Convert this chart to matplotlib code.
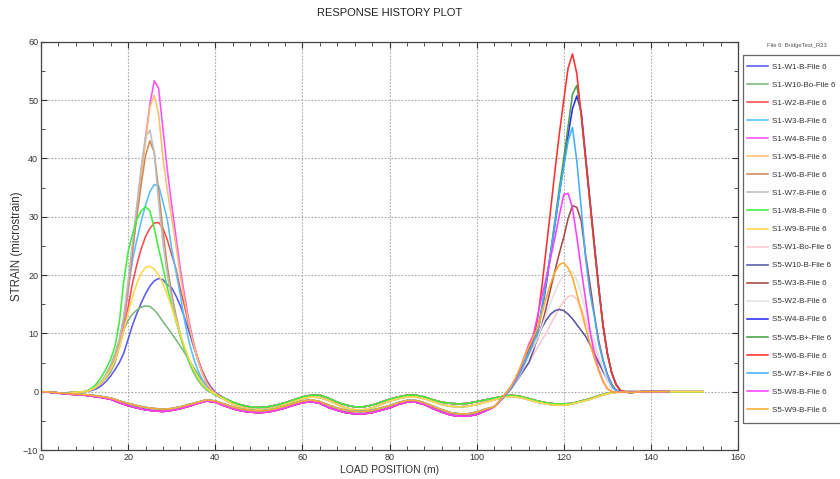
import matplotlib
matplotlib.use("Agg")
import matplotlib.pyplot as plt
from matplotlib.ticker import MultipleLocator
from matplotlib.patches import Rectangle

plt.rcParams['font.family'] = ['Liberation Sans', 'DejaVu Sans']

# ---------------- data ----------------
# sample positions (load position, m)
S1_PRE_X = [0, 1, 2, 3, 4, 5, 6, 7, 8, 9]
S1_PEAK_X = list(range(10, 41))
S1_POST_X = list(range(42, 153, 2))
S5_PRE_X = list(range(0, 103, 2))
S5_PEAK_X = list(range(104, 135))
S5_POST_X = [135, 136, 138, 140, 142, 144]

# shared baseline segments
S1_PRE = [0.0, -0.05, -0.1, -0.15, -0.2, -0.2, -0.2, -0.15, -0.1, -0.05]
S1_POST_A = [-1.1, -1.8, -2.3, -2.6, -2.7, -2.6, -2.3, -1.9, -1.4, -0.9, -0.6, -0.6, -1.1, -1.8,
             -2.3, -2.6, -2.6, -2.3, -1.8, -1.3, -0.9, -0.6, -0.6, -0.9, -1.4, -1.8, -2.0, -2.1,
             -2.0, -1.7, -1.4, -1.1, -0.8, -0.6, -0.8, -1.2, -1.6, -1.9, -2.1, -2.1, -2.0, -1.6,
             -1.2, -0.7, -0.3, -0.05, 0.0, 0.0, 0.0, 0.0, 0.0, 0.0, 0.0, 0.0, 0.0, 0.0]
S1_POST_B = [-1.3, -2.1, -2.7, -3.0, -3.1, -3.0, -2.7, -2.2, -1.7, -1.2, -0.9, -1.0, -1.5, -2.2,
             -2.8, -3.1, -3.1, -2.8, -2.2, -1.6, -1.2, -0.9, -0.9, -1.2, -1.7, -2.2, -2.5, -2.6,
             -2.5, -2.2, -1.8, -1.4, -1.0, -0.8, -1.0, -1.4, -1.8, -2.1, -2.3, -2.3, -2.1, -1.7,
             -1.3, -0.8, -0.35, -0.1, 0.0, 0.0, 0.0, 0.0, 0.0, 0.0, 0.0, 0.0, 0.0, 0.0]
S5_PRE_A = [0.0, -0.1, -0.25, -0.4, -0.5, -0.6, -0.8, -1.0, -1.3, -1.9, -2.4, -2.8, -3.1, -3.3,
            -3.4, -3.2, -2.9, -2.5, -2.0, -1.6, -1.8, -2.4, -2.9, -3.3, -3.5, -3.6, -3.5, -3.2,
            -2.8, -2.3, -1.9, -1.7, -2.0, -2.7, -3.2, -3.6, -3.8, -3.8, -3.6, -3.2, -2.8, -2.2,
            -1.8, -1.8, -2.2, -2.9, -3.5, -4.0, -4.2, -4.2, -3.9, -3.3]
S5_PRE_B = [0.0, -0.05, -0.2, -0.3, -0.4, -0.5, -0.65, -0.85, -1.1, -1.6, -2.0, -2.4, -2.7, -2.9,
            -3.0, -2.9, -2.6, -2.2, -1.8, -1.4, -1.6, -2.1, -2.6, -3.0, -3.2, -3.3, -3.2, -2.9,
            -2.5, -2.0, -1.6, -1.4, -1.7, -2.3, -2.8, -3.2, -3.4, -3.4, -3.2, -2.8, -2.4, -1.9,
            -1.5, -1.5, -1.9, -2.5, -3.1, -3.6, -3.8, -3.8, -3.5, -3.0]
S5_POST = [-0.15, -0.1, 0.0, 0.0, 0.0, 0.0]

# first-span peaks (x = 10..40)
S1_W1 = [0.0, 0.1, 0.3, 0.6, 1.1, 1.8, 2.7, 3.8, 5.0, 6.6, 9.0, 11.4, 13.4, 15.2, 16.8, 18.1,
         19.0, 19.4, 19.2, 18.3, 17.8, 16.4, 14.7, 12.6, 10.3, 7.8, 5.5, 3.6, 2.0, 0.8, -0.1]
S1_W10 = [0.0, 0.2, 0.5, 1.0, 1.6, 2.4, 3.4, 5.0, 8.0, 10.6, 12.2, 13.3, 14.0, 14.5, 14.7, 14.6,
          14.0, 13.1, 12.0, 11.0, 10.0, 8.9, 7.8, 6.6, 5.4, 4.2, 3.0, 1.9, 0.9, 0.0, -0.6]
S1_W2 = [0.0, 0.2, 0.5, 1.0, 1.7, 2.6, 3.9, 5.5, 7.7, 10.5, 14.5, 18.6, 21.8, 24.5, 26.6, 28.0,
         28.9, 29.0, 28.0, 26.0, 23.5, 21.0, 17.5, 14.5, 11.2, 8.3, 5.7, 3.5, 1.8, 0.5, -0.3]
S1_W3 = [0.0, 0.2, 0.5, 1.0, 1.7, 2.7, 4.0, 5.8, 8.2, 11.8, 17.5, 22.5, 26.0, 29.2, 32.0, 34.3,
         35.5, 35.3, 32.5, 29.5, 24.5, 20.5, 16.5, 12.0, 8.5, 5.8, 3.7, 2.1, 1.0, 0.2, -0.3]
S1_W4 = [0.0, 0.2, 0.5, 1.0, 1.8, 2.8, 4.2, 6.0, 8.3, 11.8, 17.3, 24.0, 31.0, 37.5, 43.5, 49.3,
         53.3, 52.0, 45.0, 38.0, 32.0, 26.5, 21.0, 16.3, 12.0, 8.5, 5.5, 3.2, 1.5, 0.4, -0.3]
S1_W5 = [0.0, 0.2, 0.5, 1.0, 1.8, 2.9, 4.4, 6.3, 8.8, 12.5, 18.0, 24.5, 31.0, 37.0, 43.0, 48.8,
         50.8, 47.5, 40.0, 34.5, 29.8, 25.0, 19.8, 15.5, 11.5, 8.2, 5.4, 3.2, 1.5, 0.4, -0.3]
S1_W6 = [0.0, 0.2, 0.6, 1.1, 1.9, 3.0, 4.5, 6.4, 8.8, 12.5, 18.0, 24.0, 30.0, 35.5, 40.5, 43.0,
         41.0, 34.5, 27.5, 21.5, 16.8, 13.0, 9.8, 7.2, 5.1, 3.4, 2.0, 1.0, 0.3, -0.1, -0.4]
S1_W7 = [0.0, 0.2, 0.6, 1.1, 1.9, 3.0, 4.6, 6.6, 9.0, 13.0, 19.0, 25.5, 32.0, 38.5, 43.8, 44.8,
         41.0, 32.5, 25.5, 20.0, 16.0, 12.5, 9.5, 7.0, 5.0, 3.3, 2.0, 1.0, 0.3, -0.1, -0.4]
S1_W8 = [0.0, 0.3, 0.8, 1.6, 2.7, 4.0, 5.6, 7.8, 12.0, 19.0, 24.0, 27.0, 29.5, 31.0, 31.7, 31.0,
         28.0, 24.5, 21.3, 17.8, 14.8, 12.0, 9.5, 7.2, 5.2, 3.5, 2.2, 1.2, 0.4, -0.1, -0.5]
S1_W9 = [0.0, 0.2, 0.5, 1.0, 1.7, 2.6, 3.8, 5.4, 7.6, 10.5, 13.5, 16.2, 18.6, 20.3, 21.3, 21.5,
         21.0, 20.0, 18.5, 16.6, 14.5, 12.2, 9.8, 7.6, 5.6, 3.9, 2.5, 1.4, 0.6, 0.0, -0.4]

# second-span peaks (x = 104..134)
S5_W1 = [-2.6, -1.9, -1.0, -0.2, 0.6, 1.5, 2.6, 3.8, 5.0, 6.3, 7.6, 8.9, 10.0, 11.6, 13.0, 14.4,
         15.5, 16.3, 16.5, 15.8, 14.2, 12.2, 10.0, 7.8, 5.7, 3.7, 1.9, 0.5, 0.0, 0.0, 0.0]
S5_W10 = [-2.6, -1.9, -1.0, -0.2, 0.7, 1.7, 2.8, 3.9, 5.0, 7.0, 9.4, 11.0, 12.3, 13.3, 13.9, 14.1,
          13.9, 13.3, 12.5, 11.5, 10.5, 9.5, 8.1, 6.6, 5.0, 3.5, 2.1, 0.9, 0.1, 0.0, 0.0]
S5_W3 = [-2.6, -1.9, -1.0, -0.2, 0.6, 1.7, 3.1, 4.7, 6.3, 7.8, 9.0, 11.5, 14.5, 17.7, 20.8, 23.8,
         26.5, 29.7, 31.9, 31.6, 29.3, 23.5, 18.5, 13.3, 8.8, 5.5, 3.0, 1.3, 0.3, 0.0, 0.0]
S5_W2 = [-2.6, -1.9, -1.0, -0.2, 0.6, 1.6, 3.0, 4.5, 6.0, 7.6, 9.2, 11.2, 13.3, 15.3, 17.2, 18.8,
         20.0, 20.7, 20.6, 19.2, 16.8, 14.0, 11.3, 8.7, 6.2, 4.0, 2.0, 0.5, 0.0, 0.0, 0.0]
S5_W4 = [-2.6, -1.9, -1.0, -0.2, 0.7, 1.9, 3.4, 5.0, 6.8, 8.6, 10.2, 14.0, 18.5, 23.5, 28.8, 34.0,
         39.0, 44.0, 48.5, 50.7, 48.0, 40.5, 33.0, 25.5, 18.2, 11.6, 6.7, 3.3, 1.3, 0.2, 0.0]
S5_W5 = [-2.6, -1.9, -1.0, -0.2, 0.7, 1.9, 3.4, 5.0, 6.8, 8.7, 10.5, 14.5, 19.0, 24.0, 29.5, 35.0,
         40.0, 45.5, 51.0, 52.5, 47.5, 40.0, 32.5, 25.0, 17.8, 11.3, 6.5, 3.2, 1.2, 0.2, 0.0]
S5_W6 = [-2.6, -1.9, -1.0, -0.1, 0.9, 2.2, 3.9, 6.0, 7.2, 9.0, 12.5, 18.2, 24.7, 31.3, 38.0, 44.3,
         50.0, 55.5, 57.9, 54.5, 47.5, 40.0, 32.5, 25.0, 17.8, 11.3, 6.5, 3.2, 1.2, 0.2, 0.0]
S5_W7 = [-2.6, -1.9, -1.0, -0.2, 0.7, 1.9, 3.4, 5.0, 6.8, 8.5, 10.0, 14.5, 19.2, 24.0, 29.0, 34.0,
         38.5, 43.0, 45.3, 39.5, 31.5, 23.0, 17.0, 13.0, 8.3, 5.3, 2.8, 1.1, 0.2, 0.0, 0.0]
S5_W8 = [-2.6, -1.8, -0.9, 0.0, 1.0, 2.3, 4.0, 6.0, 8.2, 9.7, 13.0, 16.5, 19.5, 23.0, 26.5, 30.3,
         33.8, 34.0, 31.5, 26.5, 21.0, 15.8, 10.5, 6.6, 3.8, 1.8, 0.5, 0.0, -0.1, -0.1, 0.0]
S5_W9 = [-2.6, -1.8, -0.9, 0.0, 1.1, 2.5, 4.2, 6.0, 7.8, 9.3, 11.0, 13.5, 16.2, 18.6, 20.5, 21.8,
         22.1, 21.2, 19.6, 16.8, 13.9, 11.0, 8.3, 5.8, 3.6, 1.8, 0.5, 0.0, -0.1, -0.1, 0.0]

S1_LABELS = ["S1-W1-B-File 6", "S1-W10-Bo-File 6", "S1-W2-B-File 6", "S1-W3-B-File 6",
             "S1-W4-B-File 6", "S1-W5-B-File 6", "S1-W6-B-File 6", "S1-W7-B-File 6",
             "S1-W8-B-File 6", "S1-W9-B-File 6"]
S5_LABELS = ["S5-W1-Bo-File 6", "S5-W10-B-File 6", "S5-W3-B-File 6", "S5-W2-B-File 6",
             "S5-W4-B-File 6", "S5-W5-B+-File 6", "S5-W6-B-File 6", "S5-W7-B+-File 6",
             "S5-W8-B-File 6", "S5-W9-B-File 6"]
S1_PEAKS = [S1_W1, S1_W10, S1_W2, S1_W3, S1_W4, S1_W5, S1_W6, S1_W7, S1_W8, S1_W9]
S5_PEAKS = [S5_W1, S5_W10, S5_W3, S5_W2, S5_W4, S5_W5, S5_W6, S5_W7, S5_W8, S5_W9]
S1_COLORS = ["#5a5af0", "#7ab87a", "#ff4a4a", "#55bfff", "#ff50ff",
             "#ffbe6a", "#cf8a5a", "#bdbdbd", "#40ee40", "#ffd84a"]
S5_COLORS = ["#ffc8d0", "#5858a8", "#a84848", "#e2e2e2", "#2a2aff",
             "#4aa04a", "#ff3030", "#40b0ff", "#ff40ff", "#ffaa30"]

# ---------------- plot ----------------
fig = plt.figure(figsize=(8.4, 4.79), dpi=100)
ax = fig.add_axes([0.0488, 0.0605, 0.8298, 0.8525])

for i, (lab, pk, col) in enumerate(zip(S1_LABELS, S1_PEAKS, S1_COLORS)):
    post = S1_POST_A if i % 2 == 0 else S1_POST_B
    ax.plot(S1_PRE_X + S1_PEAK_X + S1_POST_X, S1_PRE + pk + post,
            color=col, lw=1.15, label=lab)
for i, (lab, pk, col) in enumerate(zip(S5_LABELS, S5_PEAKS, S5_COLORS)):
    pre = S5_PRE_A if i % 2 == 0 else S5_PRE_B
    ax.plot(S5_PRE_X + S5_PEAK_X + S5_POST_X, pre + pk + S5_POST,
            color=col, lw=1.15, label=lab)

ax.set_xlim(0, 160)
ax.set_ylim(-10, 60)
ax.xaxis.set_major_locator(MultipleLocator(20))
ax.xaxis.set_minor_locator(MultipleLocator(4))
ax.yaxis.set_major_locator(MultipleLocator(10))
ax.yaxis.set_minor_locator(MultipleLocator(5))
ax.tick_params(which='both', direction='in', top=True, right=True, labelsize=6.5,
               colors='#333333', pad=2)
ax.tick_params(which='major', length=4)
ax.tick_params(which='minor', length=3)
ax.grid(True, which='major', linestyle=(0, (1.5, 1.5)), color='#aaaaaa', lw=0.8)
for sp in ax.spines.values():
    sp.set_color('#444444')
    sp.set_linewidth(0.9)

ax.set_xlabel("LOAD POSITION (m)", fontsize=7.5, color='#333333', labelpad=2)
ax.set_ylabel("STRAIN (microstrain)", fontsize=8.3, color='#333333')
ax.yaxis.set_label_coords(-0.026, 0.5)
fig.text(0.464, 0.972, "RESPONSE HISTORY PLOT", ha='center', va='center',
         fontsize=8, color='#222222')
fig.text(0.948, 0.904, "File 6: BridgeTest_R23", ha='center', va='center',
         fontsize=4.2, color='#555555')

# legend box (its right edge lies beyond the figure, as in the reference)
fig.patches.append(Rectangle((743 / 840, 1 - 423 / 479), 110 / 840, 368 / 479,
                             transform=fig.transFigure, facecolor='none',
                             edgecolor='#666666', lw=0.9, zorder=-1))
leg = ax.legend(loc='upper left', bbox_to_anchor=(744.6 / 840, 1 - 61 / 479),
                bbox_transform=fig.transFigure, fontsize=5.8, frameon=False,
                handlelength=2.6, handletextpad=0.5,
                labelspacing=1.29, borderpad=0.3, borderaxespad=0.0)
for t in leg.get_texts():
    t.set_color('#333333')

fig.savefig("out.png", dpi=100)
